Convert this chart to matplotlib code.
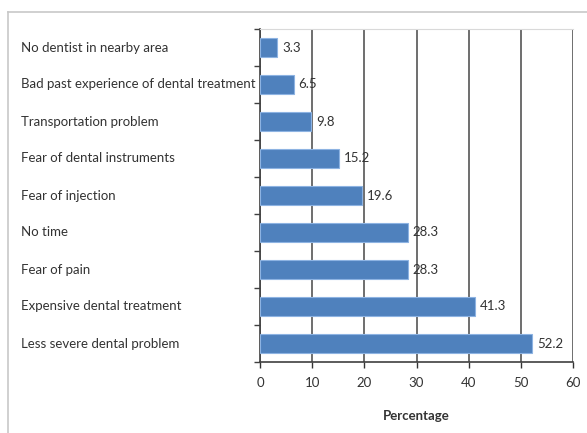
import numpy as np
import matplotlib
matplotlib.use("Agg")
import matplotlib.pyplot as plt
from matplotlib.lines import Line2D
from matplotlib.transforms import blended_transform_factory

reasons = [
    "No dentist in nearby area",
    "Bad past experience of dental treatment",
    "Transportation problem",
    "Fear of dental instruments",
    "Fear of injection",
    "No time",
    "Fear of pain",
    "Expensive dental treatment",
    "Less severe dental problem",
]
percentages = [3.3, 6.5, 9.8, 15.2, 19.6, 28.3, 28.3, 41.3, 52.2]
x_ticks = [0, 10, 20, 30, 40, 50, 60]

plt.rcParams['font.family'] = ['Lato', 'DejaVu Sans']
txt = '#333333'

fig = plt.figure(figsize=(5.87, 4.33), dpi=100)
ax = fig.add_axes([260 / 587, 1 - 362 / 433, 313 / 587, 333 / 433])

y = np.arange(len(reasons))
ax.barh(y, percentages, height=0.5, color='#4F81BD', edgecolor='#8DB3E2',
        linewidth=0.8, zorder=3)
for yi, v in zip(y, percentages):
    ax.text(v + 0.9, yi, f"{v}", va='center', ha='left', fontsize=9.5,
            color=txt, zorder=4)

ax.set_ylim(len(reasons) - 0.5, -0.5)
ax.set_xlim(0, 60)
ax.set_xticks(x_ticks)
ax.tick_params(axis='x', labelsize=9.5, colors=txt, length=4, width=1,
               pad=7)
ax.set_yticks(y)
ax.set_yticklabels([])
ax.tick_params(axis='y', length=0)
# category labels, left-aligned like the original
trans = blended_transform_factory(fig.transFigure, ax.transData)
for yi, name in zip(y, reasons):
    fig.text(21 / 587, yi, name, transform=trans, ha='left', va='center',
             fontsize=9.5, color=txt)
# tick marks at category boundaries
ax.set_yticks(np.arange(-0.5, len(reasons), 1), minor=True)
ax.tick_params(axis='y', which='minor', length=4, width=1, color='#404040')

ax.grid(axis='x', color='#6E6E6E', linewidth=1.4, zorder=0)
ax.set_axisbelow(True)
ax.spines['top'].set_color('#D9D9D9')
ax.spines['right'].set_visible(False)
ax.spines['left'].set_color('#404040')
ax.spines['bottom'].set_color('#404040')
ax.spines['left'].set_linewidth(1.2)
ax.spines['bottom'].set_linewidth(1.2)

ax.set_xlabel("Percentage", fontsize=9.5, fontweight='bold', color=txt,
              labelpad=15)

# outer chart frame
fig.add_artist(Line2D([8 / 587, 8 / 587], [0, 1 - 12 / 433],
                      transform=fig.transFigure, color='#C8C8C8', linewidth=1.2))
fig.add_artist(Line2D([8 / 587, 1], [1 - 12 / 433, 1 - 12 / 433],
                      transform=fig.transFigure, color='#C8C8C8', linewidth=1.2))

fig.savefig('out.png', dpi=100)
